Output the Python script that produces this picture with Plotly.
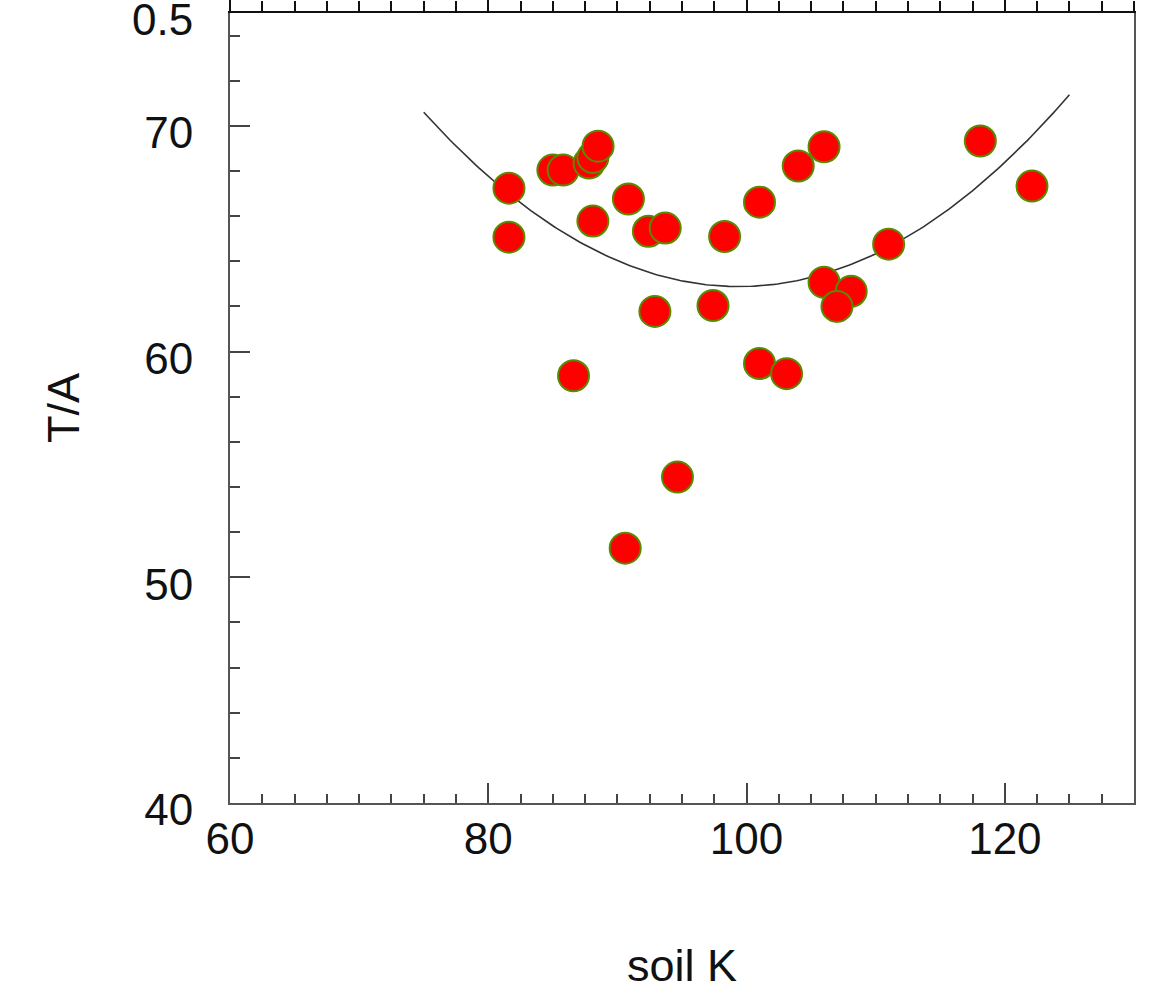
import numpy as np
import plotly.graph_objects as go

# soil potassium vs T/A observations
soil_k = [81.6, 81.6, 85.0, 85.8, 87.8, 88.1, 88.5, 90.85, 88.1, 92.4, 93.7,
          98.3, 92.9, 97.4, 86.6, 101.0, 101.0, 103.1, 104.0, 106.0, 118.1,
          122.1, 111.0, 106.0, 108.1, 107.0, 94.65, 90.6]
t_a = [67.24, 65.07, 68.04, 68.04, 68.35, 68.6, 69.1, 66.76, 65.78, 65.33, 65.47,
       65.1, 61.78, 62.04, 58.93, 66.62, 59.47, 59.02, 68.22, 69.07, 69.33,
       67.33, 64.76, 63.07, 62.67, 62.0, 54.44, 51.29]

x_ticks = [60, 80, 100, 120]
y_ticks = [40, 50, 60, 70, 75]
y_tick_text = ["40", "50", "60", "70", "0.5"]

# quadratic trend fitted to the observations
coef = np.polyfit(soil_k, t_a, 2)
fit_x = np.linspace(75, 125, 200)
fit_y = np.polyval(coef, fit_x)

font = dict(family="Liberation Sans, Arial, sans-serif", size=44, color="#111")
title_font = dict(family="Liberation Sans, Arial, sans-serif", size=45, color="#111")

fig = go.Figure()
fig.add_trace(go.Scatter(x=fit_x, y=fit_y, mode="lines",
                         line=dict(color="#333", width=1.6), hoverinfo="skip"))
fig.add_trace(go.Scatter(x=soil_k, y=t_a, mode="markers",
                         marker=dict(size=31, color="#ff0000",
                                     line=dict(color="#5a8a00", width=2))))
# carrier trace for the top/right frame axes
fig.add_trace(go.Scatter(x=[60], y=[40], xaxis="x2", yaxis="y2", mode="markers",
                         marker=dict(opacity=0), hoverinfo="skip"))

fig.update_layout(
    width=1158, height=997,
    margin=dict(l=230, r=24, t=13, b=194, autoexpand=False),
    paper_bgcolor="white", plot_bgcolor="white",
    showlegend=False, font=font,
    xaxis=dict(range=[60, 130], tickvals=x_ticks, ticks="inside", ticklen=20,
               tickwidth=2, tickcolor="#444", automargin=False,
               minor=dict(dtick=2.5, ticks="inside", ticklen=9, tickwidth=2, tickcolor="#444"),
               showline=True, linecolor="#555", linewidth=2, showgrid=False,
               zeroline=False, title=dict(text="soil K", standoff=88, font=title_font),
               ticklabelstandoff=-4, ticklabeloverflow="allow"),
    yaxis=dict(range=[40, 75], tickvals=y_ticks, ticktext=y_tick_text,
               ticks="inside", ticklen=20, tickwidth=2, tickcolor="#444",
               automargin=False, ticklabeloverflow="allow", ticklabelshift=7,
               minor=dict(dtick=2, ticks="inside", ticklen=10, tickwidth=2, tickcolor="#444"),
               showline=True, linecolor="#555", linewidth=2, showgrid=False,
               zeroline=False, title=dict(text="T/A", standoff=38, font=title_font),
               ticklabelstandoff=26),
    xaxis2=dict(overlaying="x", matches="x", anchor="y", side="top",
                tickvals=x_ticks, ticks="outside", ticklen=14, tickwidth=2,
                tickcolor="#111", showticklabels=False, automargin=False,
                minor=dict(dtick=2.5, ticks="outside", ticklen=10, tickwidth=2, tickcolor="#111"),
                showline=True, linecolor="#111", linewidth=2, showgrid=False,
                zeroline=False),
    yaxis2=dict(overlaying="y", matches="y", anchor="x", side="right",
                ticks="", showticklabels=False, showline=True, linecolor="#555",
                linewidth=2, showgrid=False, zeroline=False, automargin=False),
)

fig.write_html("out.html")
